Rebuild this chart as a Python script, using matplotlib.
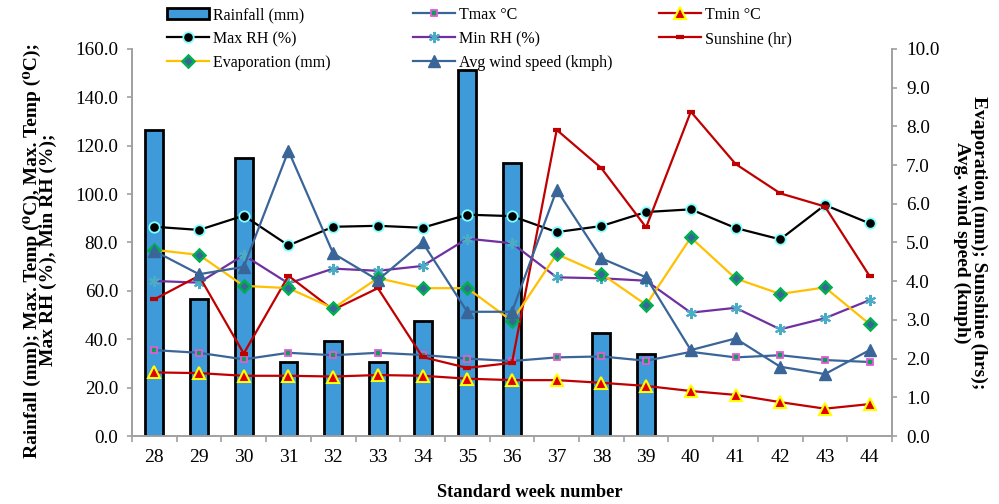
import numpy as np
import matplotlib
matplotlib.use("Agg")
import matplotlib.pyplot as plt
from matplotlib.lines import Line2D
from matplotlib.patches import Patch

plt.rcParams['font.family'] = ['Liberation Serif', 'DejaVu Serif']

# weekly weather data, standard weeks 28-44
weeks = [28, 29, 30, 31, 32, 33, 34, 35, 36, 37, 38, 39, 40, 41, 42, 43, 44]
rainfall = [126.5, 56.5, 114.8, 30.6, 39.1, 30.5, 47.7, 151.3, 113.0, np.nan,
            42.4, 33.9, np.nan, np.nan, np.nan, np.nan, np.nan]
tmax = [35.5, 34.4, 31.7, 34.4, 33.4, 34.4, 33.5, 32.0, 31.0, 32.5, 32.9, 31.1,
        34.8, 32.5, 33.4, 31.4, 30.6]
tmin = [26.3, 26.0, 24.9, 24.9, 24.6, 25.2, 24.9, 23.7, 23.1, 23.1, 22.0, 20.7,
        18.6, 17.0, 14.0, 11.3, 13.2]
max_rh = [86.5, 85.2, 91.1, 78.8, 86.5, 86.9, 86.1, 91.5, 90.9, 84.3, 86.8, 92.6,
          93.7, 86.0, 81.3, 95.5, 87.9]
min_rh = [64.1, 63.4, 74.8, 63.1, 69.2, 68.3, 70.3, 81.6, 79.7, 65.6, 65.2, 64.2,
          51.0, 53.0, 44.1, 48.7, 56.2]
sunshine = [3.53, 4.14, 2.13, 4.14, 3.26, 3.82, 2.04, 1.76, 1.89, 7.91, 6.92, 5.39,
            8.38, 7.03, 6.27, 5.93, 4.13]
evaporation = [4.81, 4.68, 3.88, 3.82, 3.30, 4.08, 3.82, 3.82, 2.97, 4.70, 4.19, 3.39,
               5.13, 4.07, 3.67, 3.84, 2.89]
wind = [4.78, 4.18, 4.37, 7.37, 4.72, 4.03, 5.00, 3.21, 3.21, 6.36, 4.59, 4.10,
        2.22, 2.52, 1.79, 1.60, 2.22]

blue = '#3a6598'
red = '#c00000'
gray = '#a0a0a0'

fig = plt.figure(figsize=(9.99, 5.04), dpi=100)
ax = fig.add_axes([0.1321, 0.1349, 0.7608, 0.7679])
ax2 = ax.twinx()

x = np.arange(len(weeks))

ax.bar(x, rainfall, width=0.4, color='#3e9ad8', edgecolor='black', linewidth=2, zorder=1)

ax.plot(x, tmax, color=blue, lw=1.6, marker='s', ms=5, mfc='#00a651', mec='#e35bd6', mew=1.3, zorder=3)
ax.plot(x, tmin, color=red, lw=1.6, marker='^', ms=9, mfc='#e00000', mec='#ffff00', mew=1.5, zorder=3)
ax.plot(x, max_rh, color='black', lw=1.6, marker='o', ms=7.5, mfc='black', mec='#80ffff', mew=1.3, zorder=3)
ax.plot(x, min_rh, color='#7030a0', lw=1.6, marker=(6, 2, 0), ms=8, mec='#4bacc6', mew=1.5, zorder=3)

ax2.plot(x, sunshine, color=red, lw=1.6, marker='_', ms=6, mew=3, mec=red, zorder=3)
ax2.plot(x, evaporation, color='#ffc000', lw=1.6, marker='D', ms=6.5, mfc=blue, mec='#00b050', mew=1.8, zorder=3)
ax2.plot(x, wind, color=blue, lw=1.6, marker='^', ms=9, mfc=blue, mec=blue, zorder=3)

ax.set_xlim(-0.5, len(weeks) - 0.5)
ax.set_ylim(0, 160)
ax2.set_ylim(0, 10)
ax.set_yticks(np.arange(0, 161, 20))
ax.set_yticklabels(['%.1f' % v for v in np.arange(0, 161, 20)])
ax2.set_yticks(np.arange(0, 11, 1))
ax2.set_yticklabels(['%.1f' % v for v in np.arange(0, 11, 1)])
ax.set_xticks(x)
ax.set_xticklabels([str(w) for w in weeks])
ax.set_xticks(np.arange(-0.5, len(weeks), 1), minor=True)

for a in (ax, ax2):
    a.spines['top'].set_visible(False)
    for s in ('left', 'right', 'bottom'):
        a.spines[s].set_color(gray)
        a.spines[s].set_linewidth(1.2)
    a.patch.set_visible(False)

ax.tick_params(axis='x', which='major', length=0, labelsize=14, pad=9)
ax.tick_params(axis='x', which='minor', length=4, color=gray, width=1.2)
ax.tick_params(axis='y', length=3.5, color=gray, width=1.2, labelsize=13.8, pad=6.5)
ax2.tick_params(axis='y', length=3.5, color=gray, width=1.2, labelsize=13.8, pad=6.5)

ax.set_xlabel('Standard week number', fontsize=13.2, fontweight='bold', va='center')
ax.xaxis.set_label_coords(0.524, -0.145)
ax.set_ylabel('Rainfall (mm); Max. Temp (\u2070C), Max. Temp (\u2070C);\nMax RH (%), Min RH (%);',
              fontsize=14, fontweight='bold', linespacing=0.95, ha='center', va='center')
ax.yaxis.set_label_coords(-0.121, 0.48)
ax2.set_ylabel('Evaporation (mm); Sunshine (hrs);\nAvg. wind speed (kmph)',
               fontsize=14, fontweight='bold', rotation=270, linespacing=0.95,
               ha='center', va='center')
ax2.yaxis.set_label_coords(1.103, 0.5)

# legend laid out as three columns
h_rain = Patch(facecolor='#3e9ad8', edgecolor='black', linewidth=2)
h_tmax = Line2D([], [], color=blue, lw=1.6, marker='s', ms=5, mfc='#00a651', mec='#e35bd6', mew=1.3)
h_tmin = Line2D([], [], color=red, lw=1.6, marker='^', ms=9, mfc='#e00000', mec='#ffff00', mew=1.5)
h_maxrh = Line2D([], [], color='black', lw=1.6, marker='o', ms=7.5, mfc='black', mec='#80ffff', mew=1.3)
h_minrh = Line2D([], [], color='#7030a0', lw=1.6, marker=(6, 2, 0), ms=8, mec='#4bacc6', mew=1.5)
h_sun = Line2D([], [], color=red, lw=1.6, marker='_', ms=6, mew=3, mec=red)
h_evap = Line2D([], [], color='#ffc000', lw=1.6, marker='D', ms=6.5, mfc=blue, mec='#00b050', mew=1.8)
h_wind = Line2D([], [], color=blue, lw=1.6, marker='^', ms=9, mfc=blue, mec=blue)

columns = [
    ([h_rain, h_maxrh, h_evap], ['Rainfall (mm)', 'Max RH (%)', 'Evaporation (mm)'], 167),
    ([h_tmax, h_minrh, h_wind], ['Tmax \u00b0C', 'Min RH (%)', 'Avg wind speed (kmph)'], 413),
    ([h_tmin, h_sun], ['Tmin \u00b0C', 'Sunshine (hr)'], 659),
]
for handles, labels, xpix in columns:
    fig.legend(handles, labels, loc='upper left', bbox_to_anchor=(xpix / 999, 1 - 7 / 504),
               frameon=False, fontsize=11.5, borderpad=0, borderaxespad=0,
               handlelength=2.6, handletextpad=0.3, labelspacing=0.5)

fig.savefig('out.png', dpi=100)
